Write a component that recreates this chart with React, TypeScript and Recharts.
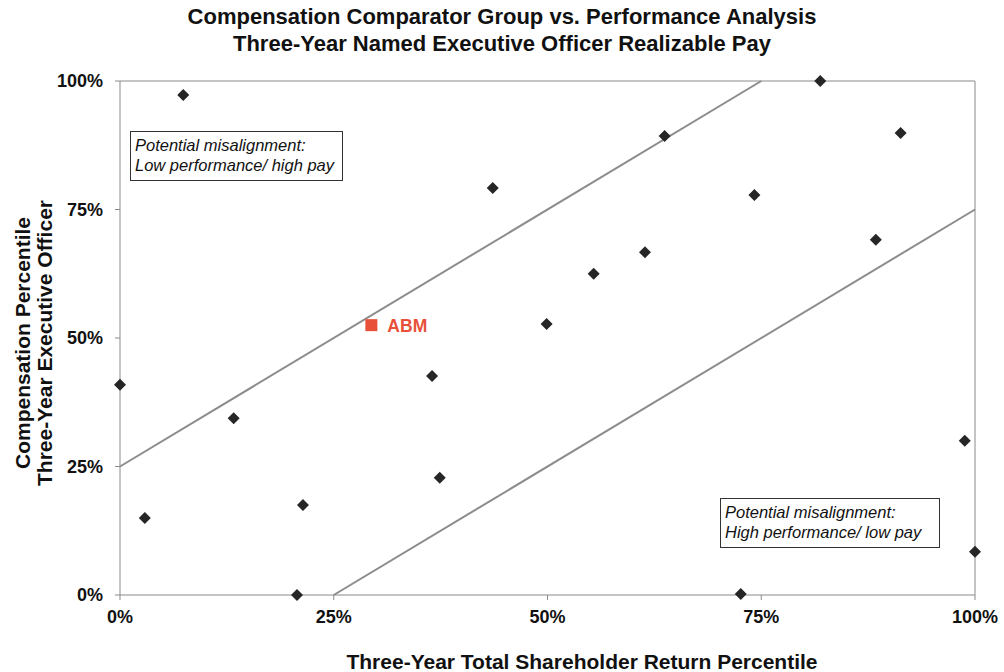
import React from 'react';
import { ScatterChart, Scatter, XAxis, YAxis, ReferenceLine } from 'recharts';

const peerTsr = [0, 2.9, 7.4, 13.3, 20.7, 21.4, 36.5, 37.4, 43.6, 49.9, 55.4, 61.4, 63.7, 72.6, 74.2, 81.9, 88.4, 91.3, 98.8, 100];
const peerPay = [40.9, 15.0, 97.3, 34.4, 0, 17.5, 42.6, 22.8, 79.2, 52.7, 62.5, 66.7, 89.3, 0.2, 77.8, 100, 69.1, 89.9, 30.0, 8.4];
const abmTsr = [29.4];
const abmPay = [52.5];
const abmNames = ['ABM'];
const axisTicks = [0, 25, 50, 75, 100];
const upperBand = [{ x: 0, y: 25 }, { x: 75, y: 100 }];
const lowerBand = [{ x: 25, y: 0 }, { x: 100, y: 75 }];

const peerData = peerTsr.map((x, i) => ({ x, y: peerPay[i] }));
const abmData = abmTsr.map((x, i) => ({ x, y: abmPay[i], name: abmNames[i] }));

const FONT = '"Liberation Sans", Arial, Helvetica, sans-serif';
const AXIS_GRAY = '#8a8a8a';

const Diamond = (props: any) => {
  const { cx, cy } = props;
  const r = 6;
  return (
    <polygon
      points={`${cx},${cy - r} ${cx + r},${cy} ${cx},${cy + r} ${cx - r},${cy}`}
      fill="#262626"
    />
  );
};

const AbmMark = (props: any) => {
  const { cx, cy, payload } = props;
  return (
    <g>
      <rect x={cx - 6} y={cy - 6} width={12} height={12} fill="#E8503A" />
      <text x={cx + 16} y={cy + 6.5} fill="#E8503A" fontSize={17.5} fontWeight="bold" fontFamily={FONT}>
        {payload.name}
      </text>
    </g>
  );
};

const pct = (v: number) => `${v}%`;

const boxStyle: React.CSSProperties = {
  position: 'absolute',
  border: '1.5px solid #333',
  background: '#fff',
  fontFamily: FONT,
  fontStyle: 'italic',
  fontSize: 16.5,
  lineHeight: '20px',
  color: '#111',
  padding: '3px 4px',
  boxSizing: 'border-box',
  whiteSpace: 'nowrap',
};

export default function App() {
  return (
    <div style={{ position: 'absolute', left: 0, top: 0, width: 1004, height: 672, background: '#fff', fontFamily: FONT }}>
      <div style={{ position: 'absolute', left: 0, top: 3, width: 1004, textAlign: 'center', fontWeight: 'bold', fontSize: 22, lineHeight: '27px', color: '#111' }}>
        Compensation Comparator Group vs. Performance Analysis
        <br />
        Three-Year Named Executive Officer Realizable Pay
      </div>
      <ScatterChart width={1004} height={672} margin={{ top: 81, right: 29, bottom: 0, left: 0 }}>
        <XAxis
          type="number"
          dataKey="x"
          domain={[0, 100]}
          ticks={axisTicks}
          tickFormatter={pct}
          height={77}
          stroke={AXIS_GRAY}
          tickSize={5}
          tickMargin={10}
          tick={{ fill: '#111', fontSize: 18, fontWeight: 'bold', fontFamily: FONT }}
        />
        <YAxis
          type="number"
          dataKey="y"
          domain={[0, 100]}
          ticks={axisTicks}
          tickFormatter={pct}
          width={120}
          stroke={AXIS_GRAY}
          tickSize={5}
          tickMargin={12}
          tick={{ fill: '#111', fontSize: 18, fontWeight: 'bold', fontFamily: FONT }}
        />
        <ReferenceLine y={100} stroke={AXIS_GRAY} strokeWidth={1} />
        <ReferenceLine x={100} stroke={AXIS_GRAY} strokeWidth={1} />
        <ReferenceLine segment={upperBand} stroke="#8c8c8c" strokeWidth={2} />
        <ReferenceLine segment={lowerBand} stroke="#8c8c8c" strokeWidth={2} />
        <Scatter data={peerData} shape={Diamond} isAnimationActive={false} />
        <Scatter data={abmData} shape={AbmMark} isAnimationActive={false} />
      </ScatterChart>
      <div style={{ ...boxStyle, left: 130, top: 131, width: 213, height: 50 }}>
        Potential misalignment:
        <br />
        Low performance/ high pay
      </div>
      <div style={{ ...boxStyle, left: 720, top: 498, width: 220, height: 50 }}>
        Potential misalignment:
        <br />
        High performance/ low pay
      </div>
      <div style={{ position: 'absolute', left: 582, top: 662, transform: 'translate(-50%, -50%)', fontWeight: 'bold', fontSize: 21, whiteSpace: 'nowrap', color: '#111' }}>
        Three-Year Total Shareholder Return Percentile
      </div>
      <div style={{ position: 'absolute', left: 34, top: 343, transform: 'translate(-50%, -50%) rotate(-90deg)', fontWeight: 'bold', fontSize: 21, lineHeight: '22px', textAlign: 'center', whiteSpace: 'nowrap', color: '#111' }}>
        Compensation Percentile
        <br />
        Three-Year Executive Officer
      </div>
    </div>
  );
}
